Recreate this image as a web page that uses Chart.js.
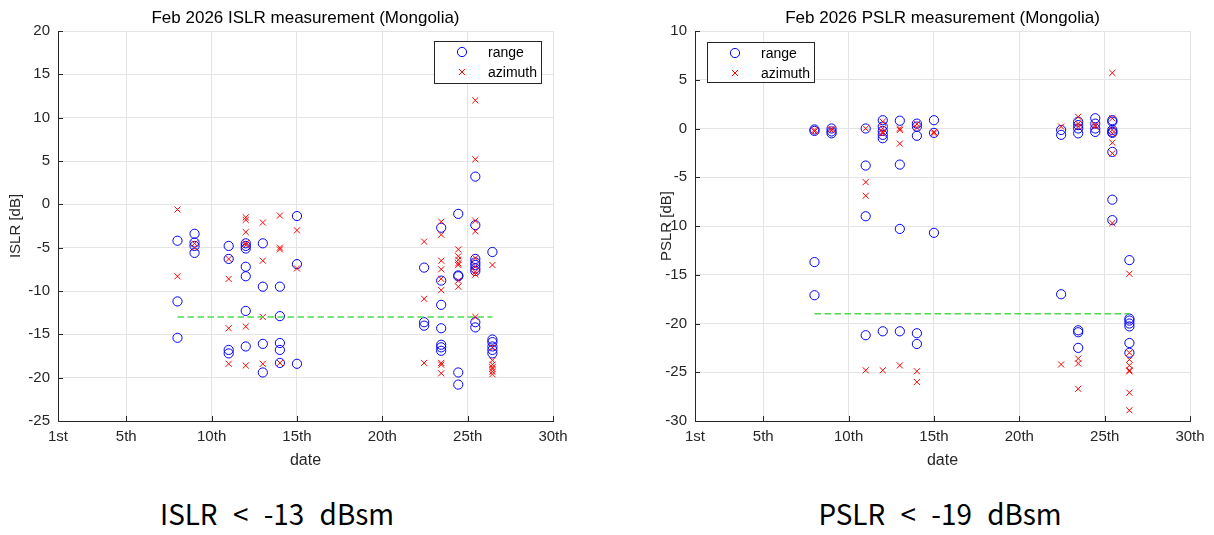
<!DOCTYPE html>
<html lang="en">
<head>
<meta charset="UTF-8">
<title>Feb 2026 ISLR / PSLR measurement (Mongolia)</title>
<script src="https://cdn.jsdelivr.net/npm/chart.js"></script>
<style>
    body { margin: 0; background: #fff; }
    #page { position: relative; width: 1214px; height: 535px; background: #fff; overflow: hidden; }
    .panel { position: absolute; top: 0; }
    .caption {
        position: absolute;
        top: 498px;
        font-family: "Noto Sans CJK KR", "Noto Sans", sans-serif;
        font-size: 29px;
        line-height: 29px;
        word-spacing: 1.5px;
        color: #000;
        text-align: center;
        white-space: pre;
        transform: scaleX(0.96);
    }
</style>
</head>
<body>
<div id="page">
    <canvas id="islrChart" class="panel" style="left:0" width="600" height="480"></canvas>
    <canvas id="pslrChart" class="panel" style="left:640px" width="574" height="480"></canvas>
    <div class="caption" style="left:0; width:554px">ISLR  &lt;  -13  dBsm</div>
    <div class="caption" style="left:640px; width:600px">PSLR  &lt;  -19  dBsm</div>
</div>

<script>
    // x axis: day of the month
    const xTickValues = [1, 5, 10, 15, 20, 25, 30];
    const xTickLabels = ['1st', '5th', '10th', '15th', '20th', '25th', '30th'];

    // measurement days (one column of points each)
    const measureDays = [8, 9, 11, 12, 13, 14, 15, 22.45, 23.45, 24.45, 25.45, 26.45];

    // ISLR [dB], one list per measurement day
    const islrRange = [
        [-4.2, -11.2, -15.4],
        [-3.4, -4.4, -4.8, -5.6],
        [-4.8, -6.3, -16.8, -17.2],
        [-4.5, -4.8, -5.1, -7.2, -8.3, -12.3, -16.4],
        [-4.5, -9.5, -16.1, -19.4],
        [-9.5, -12.9, -16.0, -16.8, -18.3],
        [-1.35, -6.9, -18.4],
        [-7.3, -13.6, -14.0],
        [-2.7, -8.8, -11.6, -14.3, -16.2, -16.5, -16.9],
        [-1.1, -8.2, -8.3, -19.4, -20.8],
        [3.2, -2.4, -6.3, -6.7, -7.0, -7.4, -7.7, -13.6, -14.2],
        [-5.5, -15.6, -15.9, -16.4, -16.8, -17.2]
    ];
    const islrAzimuth = [
        [-0.6, -8.3],
        [-4.5, -5.0],
        [-6.3, -8.6, -14.3, -18.4],
        [-1.5, -1.8, -3.2, -4.5, -4.7, -14.1, -18.6],
        [-2.1, -6.5, -13.0, -18.4],
        [-1.3, -5.0, -5.2, -18.3],
        [-3.0, -7.4],
        [-4.3, -10.9, -18.3],
        [-2.0, -3.5, -6.5, -7.5, -8.6, -9.9, -18.3, -18.5, -19.5],
        [-5.2, -6.0, -6.4, -6.8, -7.0, -8.8, -9.5],
        [12.0, 5.2, -1.9, -3.1, -6.2, -7.2, -7.8, -8.1, -13.0],
        [-7.0, -16.5, -18.0, -18.5, -18.8, -19.0, -19.3, -19.6]
    ];

    // PSLR [dB], one list per measurement day
    const pslrRange = [
        [-0.1, -0.25, -13.7, -17.1],
        [0.0, -0.3, -0.5],
        [0.0, -3.8, -9.0, -21.2],
        [0.85, 0.2, -0.25, -0.65, -1.0, -20.8],
        [0.8, -3.7, -10.3, -20.8],
        [0.5, 0.2, -0.75, -21.0, -22.1],
        [0.85, -0.45, -10.7],
        [-0.15, -0.65, -17.0],
        [0.7, 0.35, 0.0, -0.5, -20.7, -20.9, -22.5],
        [1.05, 0.5, 0.0, -0.35],
        [0.85, 0.7, -0.15, -0.35, -0.45, -2.4, -7.3, -9.4],
        [-13.5, -19.5, -19.7, -20.0, -20.3, -22.0, -23.0]
    ];
    const pslrAzimuth = [
        [-0.15, -0.3],
        [-0.05, -0.2],
        [0.0, -5.5, -6.9, -24.8],
        [0.7, 0.0, -0.35, -0.5, -24.8],
        [0.0, -0.15, -1.55, -24.3],
        [0.45, 0.1, -24.9, -26.0],
        [-0.35, -0.5],
        [0.2, -24.2],
        [1.2, 0.5, 0.2, -23.6, -24.1, -26.7],
        [0.35, 0.2],
        [5.7, 1.05, -0.15, -0.5, -1.45, -2.55, -9.7],
        [-14.9, -23.0, -23.7, -24.3, -24.8, -24.9, -27.1, -28.9]
    ];

    // requirement lines
    const limitDays = [8, 26.45];
    const islrLimit = -13;
    const pslrLimit = -19;

    const AXIS_COLOR = '#262626';
    const GRID_COLOR = '#e4e4e4';
    const FONT = '"Liberation Sans", Arial, sans-serif';

    function toPoints(groups) {
        const pts = [];
        groups.forEach((vals, i) => vals.forEach(v => pts.push({ x: measureDays[i], y: v })));
        return pts;
    }

    // small inward ticks, matlab style
    const inwardTicks = {
        id: 'inwardTicks',
        beforeDatasetsDraw(chart) {
            const { ctx, chartArea: a, scales: { x, y } } = chart;
            ctx.save();
            ctx.strokeStyle = AXIS_COLOR;
            ctx.lineWidth = 1;
            ctx.beginPath();
            x.ticks.forEach(t => {
                const px = Math.round(x.getPixelForValue(t.value)) + 0.5;
                ctx.moveTo(px, a.bottom);
                ctx.lineTo(px, a.bottom - 5);
            });
            y.ticks.forEach(t => {
                const py = Math.round(y.getPixelForValue(t.value)) + 0.5;
                ctx.moveTo(a.left, py);
                ctx.lineTo(a.left + 5, py);
            });
            ctx.stroke();
            ctx.restore();
        }
    };

    // title centred over the plot area (not the whole canvas)
    const axesTitle = {
        id: 'axesTitle',
        afterDraw(chart, args, opts) {
            const { ctx, chartArea: a } = chart;
            ctx.save();
            ctx.font = '17px ' + FONT;
            ctx.fillStyle = '#000';
            ctx.textAlign = 'center';
            ctx.textBaseline = 'middle';
            ctx.fillText(opts.text, (a.left + a.right) / 2, 18);
            ctx.restore();
        }
    };

    // boxed legend inside the plot area
    const boxLegend = {
        id: 'boxLegend',
        afterDraw(chart, args, opts) {
            const { ctx, chartArea: a } = chart;
            const w = 107, h = opts.height;
            const x0 = Math.round(opts.side === 'right' ? a.right - opts.inset - w : a.left + opts.inset);
            const y0 = Math.round(a.top + opts.top);
            ctx.save();
            ctx.fillStyle = '#fff';
            ctx.fillRect(x0, y0, w, h);
            ctx.strokeStyle = AXIS_COLOR;
            ctx.lineWidth = 1;
            ctx.strokeRect(x0 + 0.5, y0 + 0.5, w, h);
            ctx.font = '14px ' + FONT;
            ctx.textBaseline = 'middle';
            chart.data.datasets.filter(d => d.inLegend).forEach((ds, i) => {
                const cx = x0 + 28, cy = y0 + 11 + i * 20;
                ctx.strokeStyle = ds.borderColor;
                ctx.beginPath();
                if (ds.pointStyle === 'circle') {
                    ctx.arc(cx, cy, ds.pointRadius, 0, Math.PI * 2);
                } else {
                    const d = ds.pointRadius * Math.SQRT1_2;
                    ctx.moveTo(cx - d, cy - d); ctx.lineTo(cx + d, cy + d);
                    ctx.moveTo(cx - d, cy + d); ctx.lineTo(cx + d, cy - d);
                }
                ctx.stroke();
                ctx.fillStyle = '#000';
                ctx.fillText(ds.label, x0 + 54, cy + 1);
            });
            ctx.restore();
        }
    };

    function renderChart(canvasID, cfg) {
        const ctx = document.getElementById(canvasID).getContext('2d');
        new Chart(ctx, {
            type: 'scatter',
            data: {
                datasets: [{
                    label: 'range',
                    data: toPoints(cfg.range),
                    pointStyle: 'circle',
                    pointRadius: 4.6,
                    borderColor: '#0000ff',
                    backgroundColor: 'rgba(0,0,0,0)',
                    borderWidth: 1,
                    inLegend: true,
                    order: 3
                }, {
                    label: 'azimuth',
                    data: toPoints(cfg.azimuth),
                    pointStyle: 'crossRot',
                    pointRadius: 4.3,
                    borderColor: '#ff0000',
                    borderWidth: 1,
                    inLegend: true,
                    order: 2
                }, {
                    label: 'limit',
                    data: limitDays.map(d => ({ x: d, y: cfg.limit })),
                    showLine: true,
                    pointRadius: 0,
                    borderColor: '#4ddb4d',
                    borderWidth: 1.3,
                    borderDash: [6.5, 3.5],
                    order: 1
                }]
            },
            options: {
                responsive: false,
                animation: false,
                events: [],
                layout: { padding: { left: 0, right: cfg.padRight, top: 31, bottom: 0 } },
                scales: {
                    x: {
                        type: 'linear',
                        min: 1,
                        max: 30,
                        afterBuildTicks: s => { s.ticks = xTickValues.map(v => ({ value: v })); },
                        afterFit: s => { s.height = 59; },
                        ticks: {
                            padding: 7,
                            color: AXIS_COLOR,
                            font: { family: FONT, size: 15 },
                            callback: v => xTickLabels[xTickValues.indexOf(v)]
                        },
                        grid: { color: GRID_COLOR, drawTicks: false },
                        border: { display: true, color: AXIS_COLOR },
                        title: {
                            display: true,
                            text: 'date',
                            color: AXIS_COLOR,
                            font: { family: FONT, size: 16 },
                            padding: { top: 0, bottom: 10 }
                        }
                    },
                    y: {
                        min: cfg.yMin,
                        max: cfg.yMax,
                        afterFit: s => { s.width = cfg.axisLeft; },
                        ticks: {
                            stepSize: 5,
                            padding: 8,
                            color: AXIS_COLOR,
                            font: { family: FONT, size: 15 }
                        },
                        grid: { color: GRID_COLOR, drawTicks: false },
                        border: { display: true, color: AXIS_COLOR },
                        title: {
                            display: true,
                            text: cfg.yTitle,
                            color: AXIS_COLOR,
                            font: { family: FONT, size: 15 },
                            padding: { top: cfg.yTitlePad, bottom: 0 }
                        }
                    }
                },
                plugins: {
                    legend: { display: false },
                    tooltip: { enabled: false },
                    axesTitle: { text: cfg.title },
                    boxLegend: cfg.legend
                }
            },
            plugins: [inwardTicks, axesTitle, boxLegend]
        });
    }

    renderChart('islrChart', {
        title: 'Feb 2026 ISLR measurement (Mongolia)',
        yTitle: 'ISLR [dB]',
        range: islrRange,
        azimuth: islrAzimuth,
        limit: islrLimit,
        yMin: -25,
        yMax: 20,
        axisLeft: 58,
        padRight: 47,
        yTitlePad: 7,
        legend: { side: 'right', inset: 12, top: 10, height: 42 }
    });

    renderChart('pslrChart', {
        title: 'Feb 2026 PSLR measurement (Mongolia)',
        yTitle: 'PSLR [dB]',
        range: pslrRange,
        azimuth: pslrAzimuth,
        limit: pslrLimit,
        yMin: -30,
        yMax: 10,
        axisLeft: 55,
        padRight: 24,
        yTitlePad: 18,
        legend: { side: 'left', inset: 12, top: 11, height: 40 }
    });
</script>
</body>
</html>
